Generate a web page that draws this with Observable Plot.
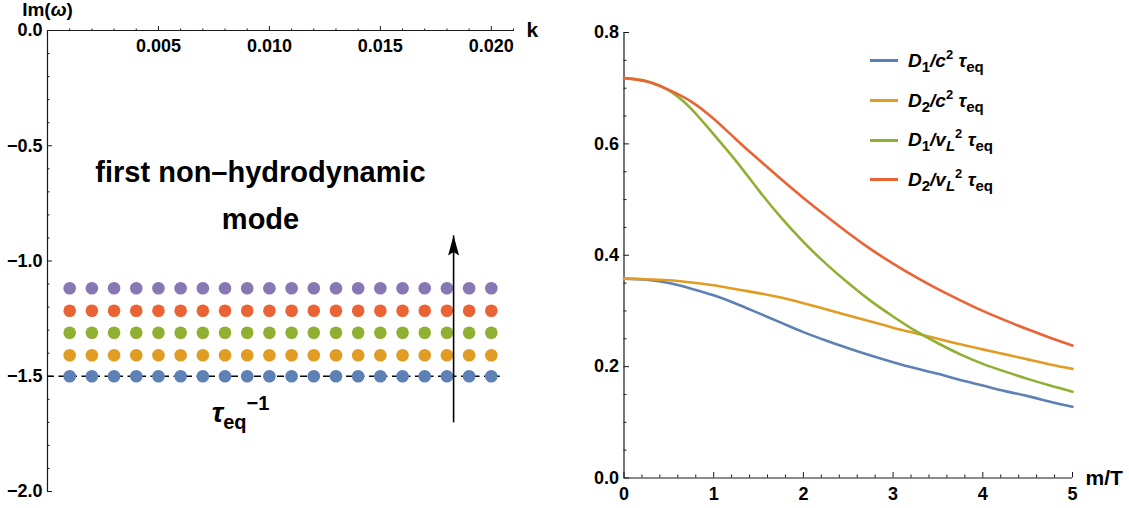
<!DOCTYPE html>
<html><head><meta charset="utf-8">
<script src="https://cdn.jsdelivr.net/npm/d3@7"></script>
<script src="https://cdn.jsdelivr.net/npm/@observablehq/plot@0.6"></script>
<style>
body{margin:0;background:#fff;}
#wrap{position:relative;width:1129px;height:508px;font-family:"Liberation Sans",Arial,sans-serif;background:#fff;overflow:hidden;}
#left{position:absolute;left:0;top:0;}
#right{position:absolute;left:560px;top:0;}
#legend{position:absolute;left:870px;top:41px;font-weight:bold;font-size:19px;color:#000;}
#legend .row{height:39.7px;display:flex;align-items:center;white-space:nowrap;}
#legend .sw{display:inline-block;width:28px;height:3px;margin-right:10px;}
#legend sub{font-size:15px;vertical-align:-5px;line-height:0;font-style:normal;}
#legend sub.i{font-style:italic;}
#legend sup{font-size:13px;vertical-align:8px;line-height:0;font-style:normal;}
</style></head><body>
<div id="wrap"><div id="left"></div><div id="right"></div><div id="legend"></div></div>
<script>
// ---------- left panel data ----------
const kValues = [0.001,0.002,0.003,0.004,0.005,0.006,0.007,0.008,0.009,0.010,0.011,0.012,0.013,0.014,0.015,0.016,0.017,0.018,0.019,0.020];
const imLevels = [-1.5, -1.409, -1.311, -1.216, -1.118];
const levelColors = ["#5E81B5","#E19C24","#8FB032","#EB6235","#8778B3"];
const leftXMajor = [0.005,0.010,0.015,0.020];
const leftXMinor = [0.001,0.002,0.003,0.004,0.006,0.007,0.008,0.009,0.011,0.012,0.013,0.014,0.016,0.017,0.018,0.019,0.021];
const leftYMajor = [0,-0.5,-1.0,-1.5,-2.0];
const leftYMinor = [-0.1,-0.2,-0.3,-0.4,-0.6,-0.7,-0.8,-0.9,-1.1,-1.2,-1.3,-1.4,-1.6,-1.7,-1.8,-1.9];
const relaxLine = [{k:0, im:-1.5},{k:0.0204, im:-1.5}];
const arrowSpec = [{k:0.0183, from:-1.70, to:-0.889}];
const modeNote = [{k:0.0096, im:-0.694, text:"first non\u2013hydrodynamic\nmode"}];
const tauNote = [{k:0.0087, im:-1.66, text:"TAU_EQ"}];

// ---------- right panel data ----------
const mT   = [0,0.25,0.5,0.75,1,1.25,1.5,1.75,2,2.25,2.5,2.75,3,3.25,3.5,3.75,4,4.25,4.5,4.75,5];
const D1c  = [0.358,0.356,0.350,0.340,0.328,0.313,0.296,0.279,0.262,0.247,0.233,0.220,0.208,0.197,0.187,0.176,0.166,0.156,0.147,0.137,0.128];
const D2c  = [0.358,0.357,0.355,0.351,0.346,0.339,0.332,0.324,0.314,0.303,0.292,0.281,0.270,0.260,0.250,0.240,0.231,0.222,0.213,0.204,0.196];
const D1v  = [0.718,0.713,0.696,0.663,0.617,0.569,0.517,0.468,0.424,0.385,0.350,0.318,0.290,0.264,0.242,0.222,0.205,0.191,0.178,0.166,0.155];
const D2v  = [0.718,0.712,0.697,0.676,0.645,0.608,0.572,0.537,0.503,0.471,0.440,0.411,0.385,0.361,0.339,0.319,0.300,0.283,0.267,0.252,0.238];
const seriesColors = ["#5E81B5","#E19C24","#8FB032","#EB6235"];
const seriesLabels = [
  '<i>D</i><sub>1</sub><i>/c</i><sup>2</sup> <i>τ</i><sub>eq</sub>',
  '<i>D</i><sub>2</sub><i>/c</i><sup>2</sup> <i>τ</i><sub>eq</sub>',
  '<i>D</i><sub>1</sub><i>/v</i><sub class="i">L</sub><sup>2</sup> <i>τ</i><sub>eq</sub>',
  '<i>D</i><sub>2</sub><i>/v</i><sub class="i">L</sub><sup>2</sup> <i>τ</i><sub>eq</sub>'
];
const rightXMajor = [0,1,2,3,4,5];
const rightXMinor = [0.2,0.4,0.6,0.8,1.2,1.4,1.6,1.8,2.2,2.4,2.6,2.8,3.2,3.4,3.6,3.8,4.2,4.4,4.6,4.8];
const rightYMajor = [0,0.2,0.4,0.6,0.8];
const rightYMinor = [0.05,0.1,0.15,0.25,0.3,0.35,0.45,0.5,0.55,0.65,0.7,0.75];

const FONT = '"Liberation Sans", Arial, sans-serif';
const AX = "#1a1a1a";
const fmt1 = d3.format(".1f");
const fmt3 = d3.format(".3f");

// ---------- left plot ----------
const dotsData = imLevels.flatMap((im, i) => kValues.map(k => ({k, im, level: i})));
const arrowHead = {draw(ctx){ ctx.moveTo(0,0); ctx.lineTo(-5.5,20); ctx.lineTo(0,16.5); ctx.lineTo(5.5,20); ctx.closePath(); }};

const left = Plot.plot({
  width: 560, height: 508,
  marginLeft: 47, marginRight: 47, marginTop: 30, marginBottom: 17,
  x: {domain: [0, 0.021], label: null},
  y: {domain: [-2, 0], label: null},
  color: {type: "ordinal", domain: [0,1,2,3,4], range: levelColors},
  style: {fontFamily: FONT, fontWeight: "bold", fontSize: "18px", color: "#000", background: "#fff"},
  marks: [
    Plot.ruleY([0], {stroke: AX, strokeWidth: 1.2}),
    Plot.ruleX([0], {stroke: AX, strokeWidth: 1.2}),
    Plot.axisX({anchor: "top", ticks: leftXMinor, tickSize: 2.5, fill: "none", stroke: AX, label: null}),
    Plot.axisX({anchor: "top", ticks: leftXMajor, tickSize: 5, fill: "none", stroke: AX, label: null}),
    Plot.text(leftXMajor, {x: d => d, y: () => 0, text: d => fmt3(d), dy: 9, lineAnchor: "top", fontSize: 18, fontWeight: "bold"}),
    Plot.axisY({anchor: "left", ticks: leftYMinor, tickSize: -2.5, fill: "none", stroke: AX, label: null}),
    Plot.axisY({anchor: "left", ticks: leftYMajor, tickSize: -5, fill: "none", stroke: AX, label: null}),
    Plot.axisY({anchor: "left", ticks: leftYMajor, tickSize: 0, tickPadding: 5, tickFormat: d => fmt1(d), fontSize: 18, label: null}),
    Plot.text(["Im(ω)"], {x: () => 0, frameAnchor: "top", dy: -15, textAnchor: "middle", lineAnchor: "bottom", fontSize: 19, fontWeight: "bold"}),
    Plot.text(["k"], {x: () => 0.021, y: () => 0, dx: 13, textAnchor: "start", lineAnchor: "middle", fontSize: 21, fontWeight: "bold"}),
    Plot.ruleY(relaxLine.slice(0,1), {x1: relaxLine[0].k, x2: relaxLine[1].k, y: "im", stroke: "#000", strokeWidth: 1.3, strokeDasharray: "7,4.5"}),
    Plot.dot(dotsData, {x: "k", y: "im", r: 6.3, fill: "level", stroke: "none"}),
    Plot.link(arrowSpec, {x1: "k", x2: "k", y1: "from", y2: "to", stroke: "#000", strokeWidth: 1.6}),
    Plot.dot(arrowSpec, {x: "k", y: "to", symbol: arrowHead, fill: "#000", stroke: "none", r: 5}),
    Plot.text(modeNote, {x: "k", y: "im", text: "text", lineHeight: 1.6, lineAnchor: "middle", textAnchor: "middle", fontSize: 29, fontWeight: "bold"}),
    Plot.text(tauNote, {x: "k", y: "im", text: "text", textAnchor: "middle", lineAnchor: "middle", fontSize: 28, fontWeight: "bold"})
  ]
});
document.getElementById("left").appendChild(left);

// rich text replacements
function rich(svg, placeholder, build) {
  d3.select(svg).selectAll("text").filter(function(){ return this.textContent === placeholder; })
    .each(function(){ const t = d3.select(this); t.text(null); build(t); });
}
rich(left, "Im(ω)", t => {
  t.append("tspan").text("Im(");
  t.append("tspan").attr("font-style", "italic").text("ω");
  t.append("tspan").text(")");
});
rich(left, "TAU_EQ", t => {
  t.append("tspan").attr("font-style", "italic").attr("font-size", 28).text("τ");
  t.append("tspan").attr("font-size", 20).attr("dy", 7).text("eq");
  t.append("tspan").attr("font-size", 20).attr("dy", -19).text("\u22121");
});

// ---------- right plot ----------
const rightData = [D1c, D2c, D1v, D2v].flatMap((arr, s) => arr.map((v, j) => ({m: mT[j], v, s})));
const right = Plot.plot({
  width: 569, height: 508,
  marginLeft: 63.5, marginRight: 57, marginTop: 32, marginBottom: 30.5,
  x: {domain: [0, 5], label: null},
  y: {domain: [0, 0.8], label: null},
  color: {type: "ordinal", domain: [0,1,2,3], range: seriesColors},
  style: {fontFamily: FONT, fontWeight: "bold", fontSize: "18px", color: "#000", background: "#fff"},
  marks: [
    Plot.ruleY([0], {stroke: AX, strokeWidth: 1.2}),
    Plot.ruleX([0], {stroke: AX, strokeWidth: 1.2}),
    Plot.axisX({anchor: "bottom", ticks: rightXMinor, tickSize: -3, fill: "none", stroke: AX, label: null}),
    Plot.axisX({anchor: "bottom", ticks: rightXMajor, tickSize: -5.5, fill: "none", stroke: AX, label: null}),
    Plot.axisX({anchor: "bottom", ticks: rightXMajor, tickSize: 0, tickPadding: 9, tickFormat: d => String(d), fontSize: 18, label: null}),
    Plot.axisY({anchor: "left", ticks: rightYMinor, tickSize: -3, fill: "none", stroke: AX, label: null}),
    Plot.axisY({anchor: "left", ticks: rightYMajor, tickSize: -5.5, fill: "none", stroke: AX, label: null}),
    Plot.axisY({anchor: "left", ticks: rightYMajor, tickSize: 0, tickPadding: 5, tickFormat: d => fmt1(d), fontSize: 18, label: null}),
    Plot.line(rightData, {x: "m", y: "v", z: "s", stroke: "s", strokeWidth: 2.6, curve: "natural"}),
    Plot.text(["m/T"], {x: () => 5, y: () => 0, dx: 13, textAnchor: "start", lineAnchor: "middle", fontSize: 21, fontWeight: "bold"})
  ]
});
document.getElementById("right").appendChild(right);

// ---------- legend ----------
const legend = d3.select("#legend");
seriesLabels.forEach((lab, i) => {
  const row = legend.append("div").attr("class", "row");
  row.append("span").attr("class", "sw").style("background", seriesColors[i]);
  row.append("span").style("font-style", "italic").html(lab);
});
</script>
</body></html>
